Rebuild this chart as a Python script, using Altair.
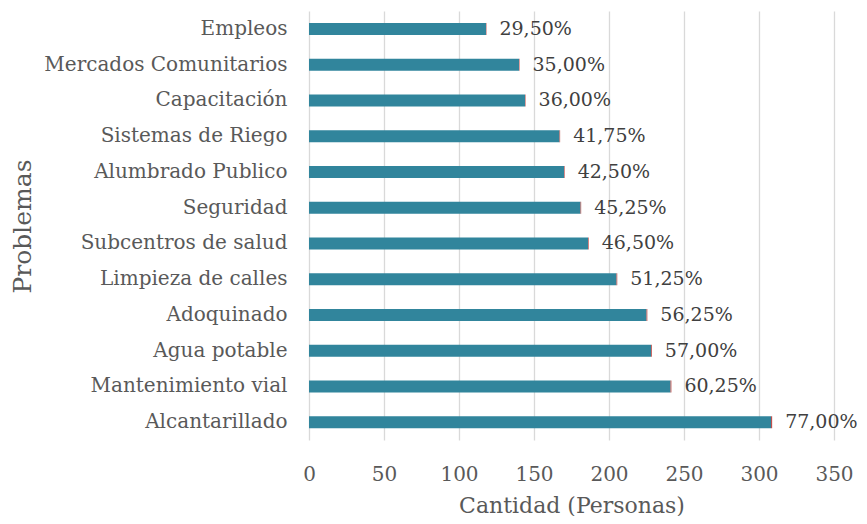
import altair as alt
import pandas as pd

categories = ["Empleos", "Mercados Comunitarios", "Capacitación", "Sistemas de Riego",
              "Alumbrado Publico", "Seguridad", "Subcentros de salud", "Limpieza de calles",
              "Adoquinado", "Agua potable", "Mantenimiento vial", "Alcantarillado"]
cantidad = [118, 140, 144, 167, 170, 181, 186, 205, 225, 228, 241, 308]
porcentaje = [29.50, 35.00, 36.00, 41.75, 42.50, 45.25, 46.50, 51.25, 56.25, 57.00, 60.25, 77.00]
etiquetas = ["29,50%", "35,00%", "36,00%", "41,75%", "42,50%", "45,25%", "46,50%",
             "51,25%", "56,25%", "57,00%", "60,25%", "77,00%"]

rows = []
for i, c in enumerate(categories):
    rows.append({"cat": c, "serie": "Cantidad", "valor": cantidad[i], "orden": 0})
    rows.append({"cat": c, "serie": "Porcentaje", "valor": porcentaje[i] / 100, "orden": 1})
df = pd.DataFrame(rows)
lab = pd.DataFrame({"cat": categories,
                    "total": [cantidad[i] + porcentaje[i] / 100 for i in range(len(categories))],
                    "txt": etiquetas})

FONT = "DejaVu Serif"
ysc = alt.Y("cat:N", sort=categories, title="Problemas",
            scale=alt.Scale(paddingInner=0.66, paddingOuter=0.33),
            axis=alt.Axis(ticks=False, domain=False, grid=False, labelPadding=22, labelFontSize=20,
                          labelLimit=400, labelFont=FONT, labelColor="#595959", titleFont=FONT,
                          titleFontSize=25, titleFontWeight="normal", titleColor="#595959",
                          titleX=-287, titleY=215, titleAngle=-90, titleBaseline="middle",
                          titleAlign="center"))

bars = alt.Chart(df).mark_bar(size=12).encode(
    x=alt.X("valor:Q", stack="zero", title="Cantidad (Personas)",
            scale=alt.Scale(domain=[0, 350], nice=False),
            axis=alt.Axis(values=[0, 50, 100, 150, 200, 250, 300, 350], ticks=False, domain=False,
                          grid=True, gridColor="#d9d9d9", gridWidth=1.3, labelPadding=24,
                          labelFlush=False, labelFontSize=20, labelFont=FONT,
                          labelColor="#595959", titleFont=FONT,
                          titleFontSize=22, titleFontWeight="normal", titleColor="#595959",
                          titleY=65, titleBaseline="middle")),
    y=ysc,
    color=alt.Color("serie:N", scale=alt.Scale(domain=["Cantidad", "Porcentaje"],
                                               range=["#31859C", "#C0504D"]), legend=None),
    order=alt.Order("orden:Q"),
)

texts = alt.Chart(lab).mark_text(align="left", baseline="middle", dx=13, font=FONT,
                                 fontSize=19, color="#404040").encode(
    x=alt.X("total:Q"),
    y=alt.Y("cat:N", sort=categories),
    text="txt:N",
)

chart = (bars + texts).properties(
    width=525, height=429,
    autosize=alt.AutoSizeParams(type="none"),
    padding={"left": 301, "top": 3, "right": 25, "bottom": 76},
).configure_view(stroke=None)

chart.save("out.html", embed_options={"renderer": "svg", "actions": False})
